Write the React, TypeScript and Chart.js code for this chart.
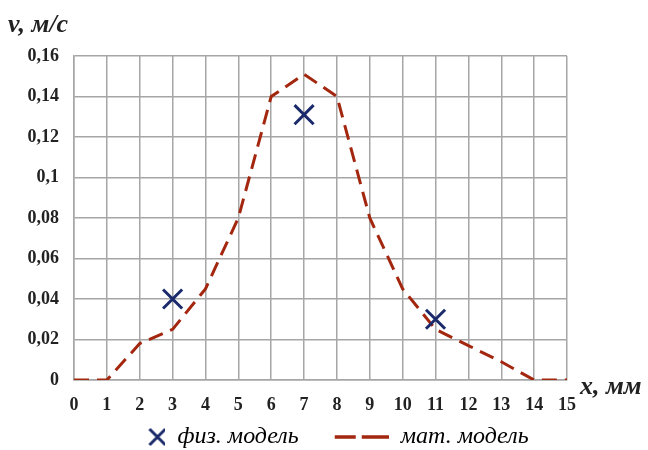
import React, { useEffect, useRef } from "react";
import { Chart, registerables } from "chart.js";

Chart.register(...registerables);

const xValues = [0, 1, 2, 3, 4, 5, 6, 7, 8, 9, 10, 11, 12, 13, 14, 15];
const matModel = [0, 0, 0.018, 0.025, 0.045, 0.08, 0.14, 0.151, 0.14, 0.08, 0.045, 0.025, 0.017, 0.009, 0, 0];
const physX = [3, 7, 11];
const physY = [0.04, 0.131, 0.03];
const seriesNames = ["физ. модель", "мат. модель"];
const yTitle = "v, м/с";
const xTitle = "x, мм";

const LINE_COLOR = "#a3260e";
const CROSS_COLOR = "#1b2a6b";
const GRID_COLOR = "#a6a6a6";
const SERIF = "'Liberation Serif', 'DejaVu Serif', serif";
const ICON_W = 90;

function makeCrossIcon(): HTMLCanvasElement {
  const c = document.createElement("canvas");
  c.width = ICON_W;
  c.height = 20;
  const ctx = c.getContext("2d")!;
  ctx.strokeStyle = CROSS_COLOR;
  ctx.lineWidth = 3;
  const cx = ICON_W - 8, cy = 10, r = 8;
  ctx.beginPath();
  ctx.moveTo(cx - r, cy - r);
  ctx.lineTo(cx + r, cy + r);
  ctx.moveTo(cx + r, cy - r);
  ctx.lineTo(cx - r, cy + r);
  ctx.stroke();
  return c;
}

function makeDashIcon(): HTMLCanvasElement {
  const c = document.createElement("canvas");
  c.width = ICON_W;
  c.height = 20;
  const ctx = c.getContext("2d")!;
  ctx.strokeStyle = LINE_COLOR;
  ctx.lineWidth = 3.5;
  ctx.beginPath();
  ctx.moveTo(ICON_W - 54, 10);
  ctx.lineTo(ICON_W - 33, 10);
  ctx.moveTo(ICON_W - 27, 10);
  ctx.lineTo(ICON_W, 10);
  ctx.stroke();
  return c;
}

const titlesPlugin = {
  id: "axisTitles",
  beforeDraw(chart: any) {
    const lg = chart.legend;
    if (lg) {
      lg.left = 0;
      lg.right = 604;
      const h = lg.bottom - lg.top;
      lg.top = 425;
      lg.bottom = lg.top + h;
    }
  },
  afterDraw(chart: any) {
    const { ctx, chartArea } = chart;
    ctx.save();
    ctx.fillStyle = "#222";
    ctx.font = `italic bold 26px ${SERIF}`;
    ctx.textBaseline = "middle";
    ctx.textAlign = "left";
    ctx.fillText(yTitle, 8, 25);
    ctx.fillText(xTitle, chartArea.right + 13, chartArea.bottom + 7);
    ctx.restore();
  },
};

export default function App() {
  const ref = useRef<HTMLCanvasElement>(null);
  useEffect(() => {
    const icons = [makeCrossIcon(), makeDashIcon()];
    const chart = new Chart(ref.current!, {
      type: "scatter",
      data: {
        datasets: [
          {
            label: seriesNames[0],
            data: physX.map((x, i) => ({ x, y: physY[i] })),
            showLine: false,
            pointStyle: "crossRot",
            pointRadius: 13.5,
            pointBorderWidth: 3,
            borderColor: CROSS_COLOR,
            backgroundColor: CROSS_COLOR,
            order: 0,
          },
          {
            label: seriesNames[1],
            data: xValues.map((x, i) => ({ x, y: matModel[i] })),
            showLine: true,
            borderColor: LINE_COLOR,
            borderWidth: 3,
            borderDash: [15, 8],
            pointRadius: 0,
            tension: 0,
            fill: false,
            order: 1,
          },
        ],
      },
      options: {
        animation: false,
        responsive: false,
        maintainAspectRatio: false,
        layout: { padding: { top: 56, right: 81, left: 0, bottom: 0 } },
        plugins: {
          tooltip: { enabled: false },
          legend: {
            position: "bottom",
            labels: {
              usePointStyle: true,
              pointStyleWidth: ICON_W,
              boxHeight: 20,
              padding: 0,
              color: "#333",
              font: { family: SERIF, size: 24, style: "italic" },
              generateLabels: (ch: any) =>
                ch.data.datasets.map((ds: any, i: number) => ({
                  text: ds.label,
                  pointStyle: icons[i],
                  fillStyle: "transparent",
                  strokeStyle: "transparent",
                  lineWidth: 0,
                  datasetIndex: i,
                  hidden: false,
                })),
            },
          },
        },
        scales: {
          x: {
            type: "linear",
            min: 0,
            max: 15,
            ticks: {
              stepSize: 1,
              color: "#222",
              padding: 15,
              font: { family: SERIF, size: 18, weight: "bold" },
              maxRotation: 0,
              autoSkip: false,
            },
            grid: { color: GRID_COLOR, lineWidth: 1.5, drawTicks: false },
            border: { color: GRID_COLOR, width: 1.5 },
            afterFit: (s: any) => {
              s.height = 36;
            },
          },
          y: {
            min: 0,
            max: 0.16,
            ticks: {
              stepSize: 0.02,
              color: "#222",
              padding: 15,
              font: { family: SERIF, size: 18, weight: "bold" },
              callback: (v: any) => {
                const n = Math.round(Number(v) * 100) / 100;
                return String(n).replace(".", ",");
              },
            },
            grid: { color: GRID_COLOR, lineWidth: 1.5, drawTicks: false },
            border: { color: GRID_COLOR, width: 1.5 },
            afterFit: (s: any) => {
              s.width = 74;
            },
          },
        },
      },
      plugins: [titlesPlugin],
    });
    return () => chart.destroy();
  }, []);
  return (
    <div style={{ position: "fixed", left: 0, top: 0, width: 648, height: 450, background: "#fff" }}>
      <canvas ref={ref} width={648} height={450} style={{ width: 648, height: 450 }} />
    </div>
  );
}
